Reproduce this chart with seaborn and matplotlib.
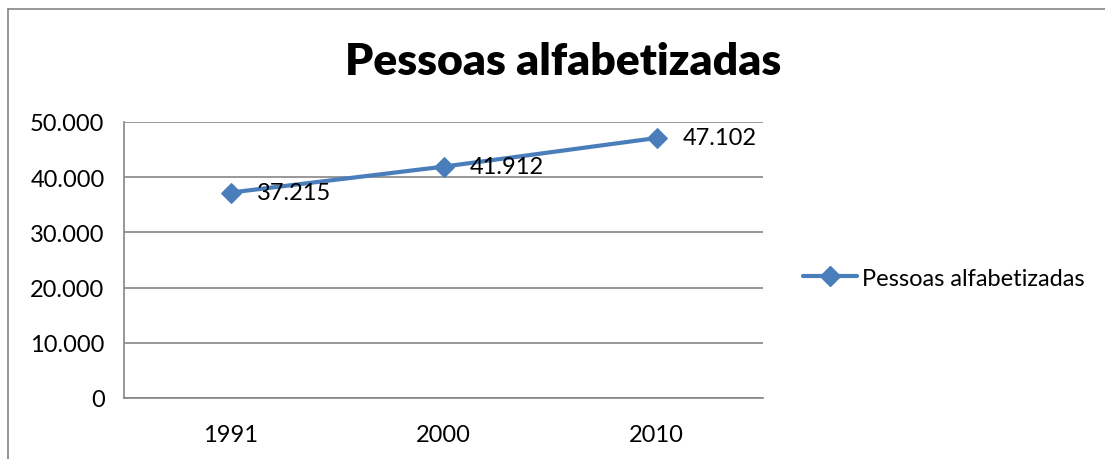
import matplotlib
matplotlib.use("Agg")
import matplotlib.pyplot as plt
import seaborn as sns
import pandas as pd
from matplotlib.lines import Line2D

anos = ["1991", "2000", "2010"]
alfabetizadas = [37215, 41912, 47102]
serie = "Pessoas alfabetizadas"

df = pd.DataFrame({"Ano": anos, "Valor": alfabetizadas})

sns.set_style("white")
plt.rcParams["font.family"] = ["Lato", "DejaVu Sans"]
plt.rcParams["text.color"] = "black"

azul = "#4A7EBB"
cinza = "#868686"

fig = plt.figure(figsize=(11.05, 4.6), dpi=100)
ax = fig.add_axes([124 / 1105, 61 / 460, 639 / 1105, 276 / 460])

sns.lineplot(data=df, x="Ano", y="Valor", ax=ax, color=azul, linewidth=3,
             marker="D", markersize=10, markeredgecolor=azul, label=serie,
             legend=False)

def fmt(v):
    return f"{v:,.0f}".replace(",", ".")

for i, v in enumerate(alfabetizadas):
    ax.annotate(fmt(v), (i, v), xytext=(19, 0), textcoords="offset points",
                va="center", ha="left", fontsize=17, color="black")

ax.set_ylim(0, 50000)
ax.set_xlim(-0.5, 2.5)
ax.set_yticks(range(0, 50001, 10000))
ax.set_yticklabels([fmt(t) for t in range(0, 50001, 10000)], fontsize=17)
ax.set_xticks([-0.5, 0.5, 1.5, 2.5])
ax.set_xticklabels([])
ax.set_xticks(range(len(anos)), minor=True)
ax.set_xticklabels(anos, minor=True, fontsize=17)
ax.tick_params(axis="x", which="minor", length=0, pad=19, labelcolor="black")
ax.tick_params(axis="x", which="major", length=7, color=cinza, width=1.2, direction="out")
ax.tick_params(axis="y", length=7, color=cinza, width=1.2, pad=7, direction="out",
               labelcolor="black")
ax.yaxis.grid(True, color=cinza, linewidth=1.2)
ax.set_axisbelow(True)
for s in ["top", "right"]:
    ax.spines[s].set_visible(False)
for s in ["left", "bottom"]:
    ax.spines[s].set_color(cinza)
    ax.spines[s].set_linewidth(1.2)
ax.set_xlabel("")
ax.set_ylabel("")

fig.text(563 / 1105, 1 - 62 / 460, serie, ha="center", va="center",
         fontsize=32, fontweight="heavy", color="black")

handle = Line2D([], [], color=azul, linewidth=3, marker="D", markersize=10)
fig.legend([handle], [serie], loc="center left", bbox_to_anchor=(803 / 1105, 1 - 279 / 460),
           frameon=False, fontsize=17, handlelength=2.3, handletextpad=0.2,
           borderpad=0, borderaxespad=0, labelcolor="black")

# moldura do gráfico
fig.add_artist(Line2D([8 / 1105, 8 / 1105], [0, 1 - 10 / 460], color=cinza, linewidth=1.2))
fig.add_artist(Line2D([8 / 1105, 1], [1 - 10 / 460, 1 - 10 / 460], color=cinza, linewidth=1.2))

fig.savefig("out.png", dpi=100)
